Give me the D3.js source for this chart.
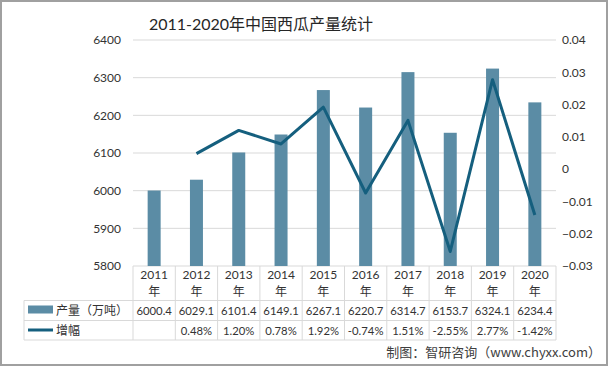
<!DOCTYPE html>
<html><head><meta charset="utf-8">
<script src="https://cdn.jsdelivr.net/npm/d3@7"></script>
<style>body{margin:0;background:#fff}svg{display:block}</style>
</head><body>
<script>
const years = ["2011","2012","2013","2014","2015","2016","2017","2018","2019","2020"];
const output = [6000.4,6029.1,6101.4,6149.1,6267.1,6220.7,6314.7,6153.7,6324.1,6234.4];
const growth = [null,0.0048,0.0120,0.0078,0.0192,-0.0074,0.0151,-0.0255,0.0277,-0.0142];
const growthLabels = ["","0.48%","1.20%","0.78%","1.92%","-0.74%","1.51%","-2.55%","2.77%","-1.42%"];
const leftTicks = [5800,5900,6000,6100,6200,6300,6400];
const rightTicks = [-0.03,-0.02,-0.01,0,0.01,0.02,0.03,0.04];
const seriesNames = ["产量（万吨）","增幅"];
const titleNum = "2011-2020";
const titleCjk = "年中国西瓜产量统计";
const source = "制图：智研咨询（www.chyxx.com）";

(function(){
const W=608,H=366;
const numFont = "Lato, 'Noto Sans', sans-serif";
const cjkFont = "'Noto Sans CJK SC', sans-serif";
const barColor = "#5b8ca5", lineColor = "#155f7e", gridColor="#d9d9d9";

const svg = d3.select("body").append("svg").attr("width",W).attr("height",H);
svg.append("rect").attr("x",1).attr("y",1).attr("width",W-2).attr("height",H-2)
  .attr("fill","#fff").attr("stroke","#a0a0a0").attr("stroke-width",2);

const pL=133,pR=556,pT=40,pB=266;
const x = d3.scaleBand().domain(years).range([pL,pR]);
const yL = d3.scaleLinear().domain([5800,6400]).range([pB,pT]);
const yR = d3.scaleLinear().domain([-0.03,0.04]).range([pB,pT]);

const t = svg.append("text").attr("x",261).attr("y",30).attr("text-anchor","middle")
  .attr("font-size",16).attr("fill","#262626");
t.append("tspan").attr("font-family",numFont).attr("font-size",16).text(titleNum);
t.append("tspan").attr("font-family",cjkFont).text(titleCjk);

svg.append("g").selectAll("line").data(leftTicks).join("line")
  .attr("x1",pL).attr("x2",pR).attr("y1",d=>yL(d)).attr("y2",d=>yL(d))
  .attr("stroke",gridColor).attr("stroke-width",1);

const gl = svg.append("g").attr("transform",`translate(${pL-12},0)`)
  .call(d3.axisLeft(yL).tickValues(leftTicks).tickSize(0).tickPadding(0).tickFormat(d3.format("d")));
gl.select(".domain").remove();
gl.selectAll("text").attr("font-family",numFont).attr("font-size",12).attr("fill","#333");

const gr = svg.append("g").attr("transform",`translate(${pR+6},0)`)
  .call(d3.axisRight(yR).tickValues(rightTicks).tickSize(0).tickPadding(0).tickFormat(d=>d===0?"0":d3.format(".2f")(d)));
gr.select(".domain").remove();
gr.selectAll("text").attr("font-family",numFont).attr("font-size",12).attr("fill","#333");

const bw = 13;
svg.append("g").selectAll("rect").data(years).join("rect")
  .attr("x",(d)=>x(d)+x.bandwidth()/2-bw/2).attr("width",bw)
  .attr("y",(d,i)=>yL(output[i])).attr("height",(d,i)=>pB-yL(output[i]))
  .attr("fill",barColor);

const pts = years.map((d,i)=>({x:x(d)+x.bandwidth()/2,v:growth[i]})).filter(p=>p.v!==null);
svg.append("path").datum(pts)
  .attr("d",d3.line().x(p=>p.x).y(p=>yR(p.v)))
  .attr("fill","none").attr("stroke",lineColor).attr("stroke-width",3).attr("stroke-linejoin","round");

const tL=24, r1=300.5, r2=320.5, r3=340;
const tg = svg.append("g").attr("stroke",gridColor).attr("stroke-width",1);
[r1,r2,r3].forEach(yy=>tg.append("line").attr("x1",tL).attr("x2",pR).attr("y1",yy).attr("y2",yy));
tg.append("line").attr("x1",tL).attr("x2",tL).attr("y1",r1).attr("y2",r3);
const bounds = years.map(d=>x(d)).concat([pR]);
bounds.forEach(bx=>tg.append("line").attr("x1",bx).attr("x2",bx).attr("y1",pB).attr("y2",r3));

const yl = svg.append("g").attr("font-size",12).attr("fill","#333").attr("text-anchor","middle");
years.forEach(d=>{
  const cx=x(d)+x.bandwidth()/2;
  yl.append("text").attr("x",cx).attr("y",279).attr("font-family",numFont).text(d);
  yl.append("text").attr("x",cx).attr("y",296).attr("font-family",cjkFont).attr("font-size",12).text("年");
});
const tv = svg.append("g").attr("font-family",numFont).attr("font-size",11.3).attr("fill","#333").attr("text-anchor","middle");
years.forEach((d,i)=>{
  const cx=x(d)+x.bandwidth()/2;
  tv.append("text").attr("x",cx).attr("y",315).text(output[i].toFixed(1));
  tv.append("text").attr("x",cx).attr("y",335).text(growthLabels[i]);
});
svg.append("rect").attr("x",28).attr("y",305.5).attr("width",25).attr("height",8).attr("fill",barColor);
svg.append("line").attr("x1",28).attr("x2",53).attr("y1",330).attr("y2",330).attr("stroke",lineColor).attr("stroke-width",3);
svg.append("text").attr("x",56).attr("y",315).attr("font-family",cjkFont).attr("font-size",12).attr("fill","#333").text(seriesNames[0]);
svg.append("text").attr("x",56).attr("y",335).attr("font-family",cjkFont).attr("font-size",12).attr("fill","#333").text(seriesNames[1]);

svg.append("text").attr("x",601).attr("y",357).attr("text-anchor","end")
  .attr("font-family",cjkFont).attr("font-size",13).attr("fill","#404040").text(source);
})();
</script>
</body></html>
